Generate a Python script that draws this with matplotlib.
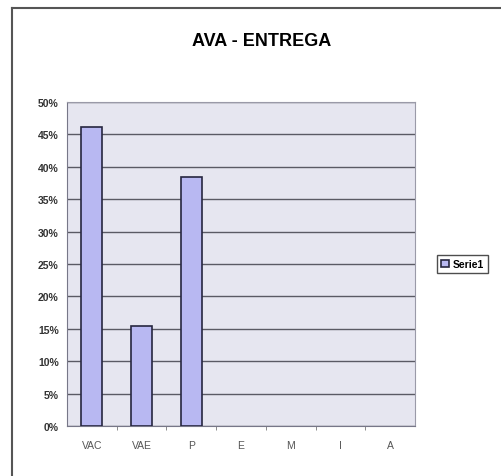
import matplotlib
matplotlib.use('Agg')
import matplotlib.pyplot as plt
from matplotlib.lines import Line2D
from matplotlib.ticker import PercentFormatter, FixedLocator

# chart data
categories = ['VAC', 'VAE', 'P', 'E', 'M', 'I', 'A']
serie1 = [6 / 13, 2 / 13, 5 / 13, 0, 0, 0, 0]
y_ticks = [0, 0.05, 0.10, 0.15, 0.20, 0.25, 0.30, 0.35, 0.40, 0.45, 0.50]

plt.rcParams['font.family'] = ['Liberation Sans', 'DejaVu Sans']

fig = plt.figure(figsize=(5.01, 4.77), dpi=100)
ax = fig.add_axes([67 / 501, 1 - 427 / 477, 348 / 501, 324 / 477])
ax.set_facecolor('#e6e6f0')

x = list(range(len(categories)))
bars = ax.bar(x, serie1, width=0.42, color='#b8b8f2', edgecolor='#262640', linewidth=1.2,
              label='Serie1', zorder=3)
# empty categories show no outline in the original
for b, v in zip(bars, serie1):
    if v == 0:
        b.set_visible(False)

ax.set_xlim(-0.5, len(categories) - 0.5)
ax.set_ylim(0, 0.5)
ax.set_yticks(y_ticks)
ax.yaxis.set_major_formatter(PercentFormatter(1.0, decimals=0))
ax.grid(axis='y', color='#5a5a64', linewidth=1.0, zorder=1)
ax.set_xticks(x)
ax.set_xticklabels(categories)
ax.xaxis.set_minor_locator(FixedLocator([i + 0.5 for i in x[:-1]]))
ax.tick_params(axis='x', which='major', length=0, pad=10, labelsize=7.5, labelcolor='#555555')
ax.tick_params(axis='x', which='minor', length=3, color='#777777')
ax.tick_params(axis='y', length=0, pad=6, labelsize=7.5, labelcolor='#333333')
for lbl in ax.get_yticklabels():
    lbl.set_fontweight('bold')

for side in ['top', 'right']:
    ax.spines[side].set_color('#9a9aa8')
for side in ['left', 'bottom']:
    ax.spines[side].set_color('#777788')

fig.text(262 / 501, 1 - 42 / 477, 'AVA - ENTREGA', ha='center', va='center',
         fontsize=13, fontweight='bold')

fig.legend(handles=[bars[0]], labels=['Serie1'], loc='center left',
           bbox_to_anchor=(432 / 501, 1 - 265 / 477),
           frameon=True, fancybox=False, edgecolor='#222222',
           handlelength=0.7, handleheight=0.7, handletextpad=0.4,
           borderpad=0.4, prop={'weight': 'bold', 'size': 7.5})

# outer frame of the scanned chart
fig.add_artist(Line2D([12 / 501, 12 / 501], [0, 1 - 9 / 477], color='#555555', lw=1.5))
fig.add_artist(Line2D([12 / 501, 1], [1 - 9 / 477, 1 - 9 / 477], color='#555555', lw=1.5))

fig.savefig('out.png', dpi=100)
